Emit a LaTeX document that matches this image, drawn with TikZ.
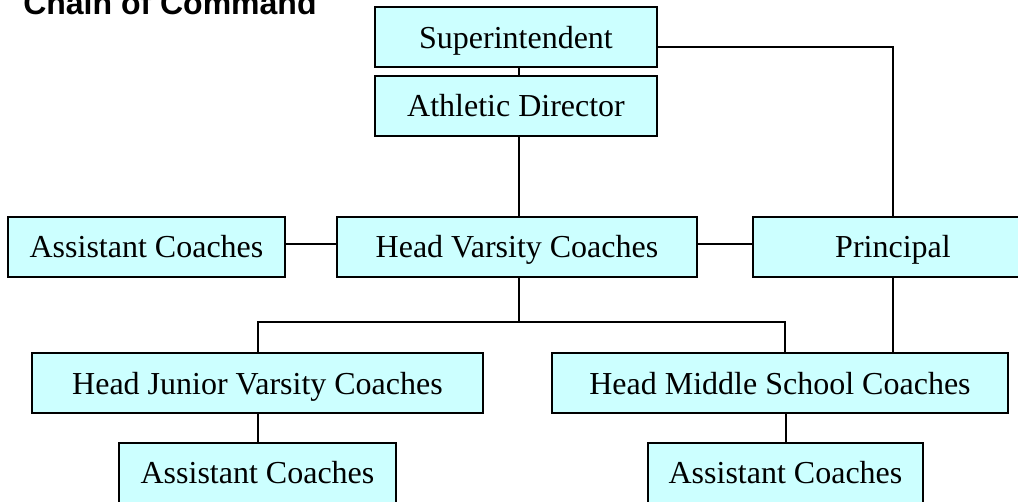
\documentclass[tikz,border=0pt]{standalone}
\usepackage{fontspec}
\setmainfont{Liberation Serif}
\newfontfamily\titlefont{Liberation Sans}
\definecolor{boxfill}{HTML}{CCFFFF}
\begin{document}
\begin{tikzpicture}[x=0.75pt,y=-0.75pt,
  orgbox/.style={draw=black,fill=boxfill,line width=1.5pt,inner sep=0pt,
    text height=16pt,text depth=0pt,
    minimum height=45pt,font=\fontsize{24pt}{28pt}\selectfont,anchor=center},
  link/.style={line width=1.5pt}]
\useasboundingbox (0,0) rectangle (1018,502);
\clip (0,0) rectangle (1018,502);
\node[anchor=base west,font=\titlefont\bfseries\fontsize{24pt}{28pt}\selectfont,inner sep=0pt] (title) at (23,15) {Chain of Command};
\node[orgbox,minimum width=211.5pt] (sup) at (516,37.5) {Superintendent};
\node[orgbox,minimum width=211.5pt] (ad) at (516,106) {Athletic Director};
\node[orgbox,minimum width=270pt] (hv) at (517,247) {Head Varsity Coaches};
\node[orgbox,minimum width=207.75pt] (ac1) at (146.5,247) {Assistant Coaches};
\node[orgbox,minimum width=210pt] (pr) at (893,247) {Principal};
\node[orgbox,minimum width=338.25pt] (hjv) at (257.5,383.5) {Head Junior Varsity Coaches};
\node[orgbox,minimum width=342pt] (hms) at (780,383.5) {Head Middle School Coaches};
\node[orgbox,minimum width=207.75pt] (ac2) at (257.5,473) {Assistant Coaches};
\node[orgbox,minimum width=206.25pt] (ac3) at (785.5,473) {Assistant Coaches};
\coordinate (v) at (519,0);
\coordinate (h1) at (0,47);
\coordinate (h2) at (0,244);
\coordinate (busL) at (257.5,322);
\coordinate (busR) at (785,322);
\draw[link] (sup.south -| v) -- (ad.north -| v);
\draw[link] (ad.south -| v) -- (hv.north -| v);
\draw[link] (hv.south -| v) -- (v |- busL);
\draw[link] (hjv.north) -- (busL) -- (busR) -- (hms.north -| busR);
\draw[link] (sup.east |- h1) -| (pr.north);
\draw[link] (pr.south) -- (hms.north -| pr.south);
\draw[link] (ac1.east |- h2) -- (hv.west |- h2);
\draw[link] (hv.east |- h2) -- (pr.west |- h2);
\draw[link] (hjv.south) -- (ac2.north);
\draw[link] (hms.south -| ac3.north) -- (ac3.north);
\end{tikzpicture}
\end{document}
